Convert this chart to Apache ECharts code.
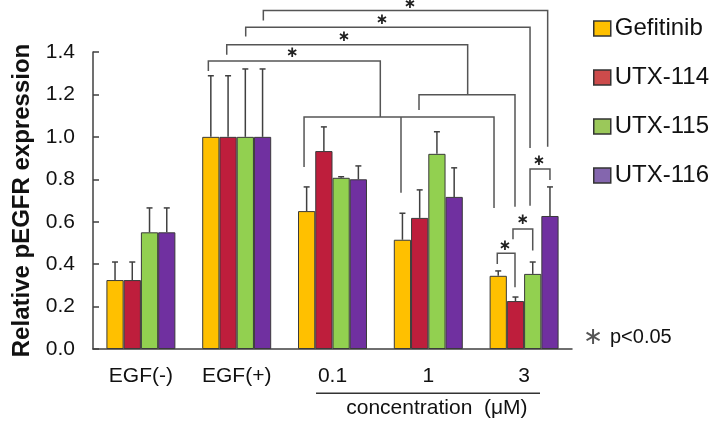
<!DOCTYPE html>
<html>
<head>
<meta charset="utf-8">
<script src="https://cdn.jsdelivr.net/npm/echarts@6/dist/echarts.min.js"></script>
<style>html,body{margin:0;padding:0;background:#fff}#c{width:712px;height:424px}</style>
</head>
<body>
<div id="c"></div>
<script>
// ---- data ----
var categories = ['EGF(-)', 'EGF(+)', '0.1', '1', '3'];
var seriesNames = ['Gefitinib', 'UTX-114', 'UTX-115', 'UTX-116'];
var gefitinib = [0.325, 1.0, 0.65, 0.515, 0.345];
var utx114 = [0.325, 1.0, 0.933, 0.618, 0.226];
var utx115 = [0.55, 1.0, 0.807, 0.92, 0.354];
var utx116 = [0.55, 1.0, 0.80, 0.717, 0.627];
var gefitinibErr = [0.085, 0.288, 0.114, 0.125, 0.023];
var utx114Err = [0.085, 0.288, 0.114, 0.132, 0.019];
var utx115Err = [0.115, 0.32, 0.005, 0.104, 0.056];
var utx116Err = [0.115, 0.32, 0.063, 0.137, 0.137];
var yTicks = [0, 0.2, 0.4, 0.6, 0.8, 1.0, 1.2, 1.4];
// significance brackets: polylines in [category position, value] units
var bracketLines = [
  [[1.278, 1.549], [1.278, 1.596], [4.246, 1.596], [4.246, 0.953]],
  [[1.094, 1.473], [1.094, 1.517], [4.062, 1.517], [4.062, 0.948]],
  [[0.896, 1.387], [0.896, 1.434], [3.411, 1.434], [3.411, 1.198]],
  [[2.903, 1.127], [2.903, 1.198], [3.905, 1.198], [3.905, 0.670]],
  [[0.704, 1.311], [0.704, 1.357], [2.499, 1.357], [2.499, 1.094]],
  [[1.703, 0.858], [1.703, 1.094], [3.686, 1.094], [3.686, 0.665]],
  [[2.715, 0.736], [2.715, 1.094]],
  [[3.72, 0.401], [3.72, 0.451], [3.905, 0.451], [3.905, 0.291]],
  [[3.884, 0.517], [3.884, 0.566], [4.090, 0.566], [4.090, 0.464]],
  [[4.062, 0.675], [4.062, 0.848], [4.27, 0.848], [4.27, 0.797]]
];
var starMarks = [[2.81, 1.625], [2.517, 1.549], [2.12, 1.468], [1.58, 1.394], [3.80, 0.485], [3.985, 0.607], [4.155, 0.884]];
var concLine = [[1.828, -0.209], [4.166, -0.209]];
var concLabel = {text: 'concentration  (μM)', pos: [3.09, -0.278]};

// ---- chart ----
var barColors = ['#FFC000', '#BE1E3C', '#92D050', '#7030A0'];
var legendColors = ['#FFC000', '#CC4B4B', '#9BC85A', '#8466AE'];
var values = [gefitinib, utx114, utx115, utx116];
var errs = [gefitinibErr, utx114Err, utx115Err, utx116Err];
var FONT = '"Liberation Sans", Arial, sans-serif';
var BARW = 0.18;

var chart = echarts.init(document.getElementById('c'));
var series = [];
seriesNames.forEach(function (n, i) {
  series.push({
    name: n, type: 'bar', data: values[i],
    barWidth: (BARW * 100) + '%', barGap: '0%',
    itemStyle: {color: barColors[i], borderColor: '#3a3a3a', borderWidth: 1},
    z: 2
  });
});
var errData = [];
values.forEach(function (arr, i) {
  arr.forEach(function (v, c) { errData.push([c, v, errs[i][c], i]); });
});
series.push({
  type: 'custom', name: 'err', z: 3, silent: true,
  data: errData,
  encode: {x: 0, y: 1},
  renderItem: function (params, api) {
    var c = api.value(0), v = api.value(1), e = api.value(2), k = api.value(3);
    var band = api.size([1, 0])[0];
    var p0 = api.coord([c, v]);
    var p1 = api.coord([c, v + e]);
    var x = p0[0] + (k - 1.5) * BARW * band;
    var st = {stroke: '#404040', lineWidth: 1.5};
    return {type: 'group', children: [
      {type: 'line', shape: {x1: x, y1: p0[1], x2: x, y2: p1[1]}, style: st},
      {type: 'line', shape: {x1: x - 3, y1: p1[1], x2: x + 3, y2: p1[1]}, style: st}
    ]};
  }
});
series.push({
  type: 'custom', name: 'brackets', z: 4, silent: true, clip: false,
  data: [[0, 0]],
  encode: {x: 0, y: 1},
  renderItem: function (params, api) {
    var band = api.size([1, 0])[0];
    function pt(p) {
      var b = api.coord([0, p[1]]);
      return [b[0] + p[0] * band, b[1]];
    }
    var children = [];
    bracketLines.forEach(function (pl) {
      children.push({type: 'polyline', shape: {points: pl.map(pt)},
        style: {stroke: '#555', lineWidth: 1.5, fill: null}});
    });
    starMarks.forEach(function (s) {
      var p = pt(s);
      children.push({type: 'text', x: p[0], y: p[1],
        style: {text: '∗', font: 'bold 15px "DejaVu Sans"', fill: '#222', align: 'center', verticalAlign: 'middle'}});
    });
    var a = pt(concLine[0]), b = pt(concLine[1]);
    children.push({type: 'line', shape: {x1: a[0], y1: a[1], x2: b[0], y2: b[1]}, style: {stroke: '#333', lineWidth: 1.5}});
    var t = pt(concLabel.pos);
    children.push({type: 'text', x: t[0], y: t[1],
      style: {text: concLabel.text, font: '21px ' + FONT, fill: '#111', align: 'center', verticalAlign: 'middle'}});
    return {type: 'group', children: children};
  }
});

chart.setOption({
  animation: false,
  backgroundColor: '#fff',
  grid: {left: 93, right: 140, top: 52, bottom: 75, containLabel: false},
  legend: {
    orient: 'vertical', left: 593, top: 15, padding: 0,
    itemWidth: 17, itemHeight: 15, itemGap: 22,
    textStyle: {fontSize: 24, fontFamily: FONT, color: '#111', lineHeight: 27, padding: [0, 0, 0, -1]},
    data: seriesNames.map(function (n, i) {
      return {name: n, icon: 'rect', itemStyle: {color: legendColors[i], borderColor: '#333', borderWidth: 1.5}};
    })
  },
  xAxis: {
    type: 'category', data: categories,
    axisLine: {lineStyle: {color: '#404040', width: 1.5}},
    axisTick: {inside: true, length: 5, interval: 0, lineStyle: {color: '#404040', width: 1.5}},
    axisLabel: {fontSize: 21, fontFamily: FONT, color: '#111', margin: 17, interval: 0}
  },
  yAxis: {
    type: 'value', min: 0, max: 1.4, interval: 0.2,
    name: 'Relative pEGFR expression', nameLocation: 'middle', nameGap: 59,
    nameTextStyle: {fontSize: 24, fontWeight: 'bold', fontFamily: FONT, color: '#111'},
    axisLine: {show: true, lineStyle: {color: '#404040', width: 1.5}},
    axisTick: {show: true, inside: true, length: 6, lineStyle: {color: '#404040', width: 1.5}},
    splitLine: {show: false},
    axisLabel: {fontSize: 21, fontFamily: FONT, color: '#111', margin: 18,
      formatter: function (v) { return yTicks.indexOf(Math.round(v * 10) / 10) >= 0 ? v.toFixed(1) : ''; }}
  },
  graphic: [
    {type: 'text', left: 583, top: 326, style: {text: '∗', font: '24px "DejaVu Sans"', fill: '#555'}},
    {type: 'text', left: 610, top: 327, style: {text: 'p<0.05', font: '20px ' + FONT, fill: '#111'}}
  ],
  series: series
});
</script>
</body>
</html>
